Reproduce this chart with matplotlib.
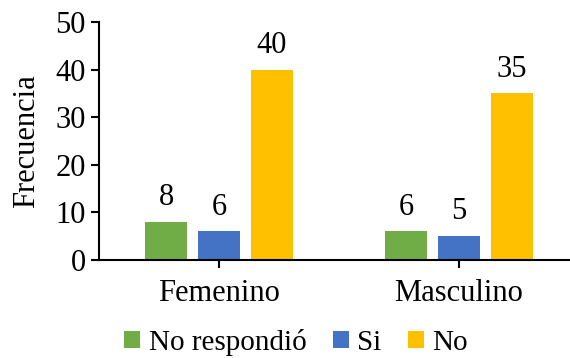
import numpy as np
import matplotlib.pyplot as plt

plt.rcParams['font.family'] = 'Liberation Serif'

categorias = ["Femenino", "Masculino"]
series = ["No respondió", "Si", "No"]
no_respondio = [8, 6]
si = [6, 5]
no = [40, 35]
colores = ["#70AD47", "#4472C4", "#FFC000"]

fig = plt.figure(figsize=(5.7, 3.58), dpi=100)
ax = fig.add_axes([99 / 570, 98 / 358, 480 / 570, 238 / 358])

x = np.arange(len(categorias))
ancho = 0.175
paso = 0.22
for i, (nombre, vals) in enumerate(zip(series, [no_respondio, si, no])):
    barras = ax.bar(x + (i - 1) * paso, vals, ancho, color=colores[i], label=nombre)
    ax.bar_label(barras, padding=7, fontsize=22)

ax.set_xlim(-0.5, 1.5)
ax.set_ylim(0, 50)
ax.set_yticks(range(0, 51, 10))
ax.set_xticks(x)
ax.set_xticklabels(categorias)
ax.tick_params(axis='both', labelsize=22, width=1.5, length=6, direction='out')
ax.tick_params(axis='x', pad=8)
ax.set_ylabel("Frecuencia", fontsize=22, labelpad=10)

for lado in ['top', 'right']:
    ax.spines[lado].set_visible(False)
for lado in ['left', 'bottom']:
    ax.spines[lado].set_linewidth(1.5)

ax.legend(loc='lower center', bbox_to_anchor=(296 / 570, -0.035), bbox_transform=fig.transFigure,
          ncol=3, frameon=False, prop={'family': 'Liberation Serif', 'size': 21},
          handlelength=0.55, handleheight=0.55, handletextpad=0.3, columnspacing=0.9,
          borderpad=0)

fig.savefig("out.png", dpi=100)
